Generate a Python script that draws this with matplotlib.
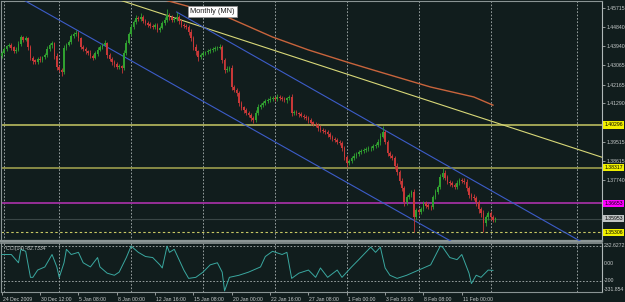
import matplotlib
matplotlib.use('Agg')
import matplotlib.pyplot as plt
import matplotlib.transforms as mtransforms
import numpy as np

# ---------------- data ----------------
first_open = 1.4350
closes = [
    1.4363, 1.4380, 1.4395, 1.4400, 1.4388, 1.4372, 1.4377, 1.4405, 1.4437, 1.4425,
    1.4432, 1.4390, 1.4340, 1.4328, 1.4321, 1.4335, 1.4330, 1.4342, 1.4353, 1.4380,
    1.4398, 1.4409, 1.4350, 1.4298, 1.4285, 1.4275, 1.4386, 1.4400, 1.4414, 1.4440,
    1.4450, 1.4456, 1.4432, 1.4391, 1.4380, 1.4370, 1.4363, 1.4350, 1.4340, 1.4360,
    1.4378, 1.4391, 1.4400, 1.4409, 1.4353, 1.4335, 1.4321, 1.4310, 1.4298, 1.4300,
    1.4293, 1.4363, 1.4409, 1.4450, 1.4483, 1.4505, 1.4525, 1.4520, 1.4530, 1.4512,
    1.4502, 1.4495, 1.4488, 1.4483, 1.4490, 1.4470, 1.4479, 1.4500, 1.4516, 1.4539,
    1.4528, 1.4516, 1.4522, 1.4530, 1.4510, 1.4493, 1.4488, 1.4483, 1.4460, 1.4432,
    1.4391, 1.4370, 1.4344, 1.4355, 1.4362, 1.4367, 1.4372, 1.4377, 1.4382, 1.4385,
    1.4388, 1.4391, 1.4330, 1.4284, 1.4290, 1.4293, 1.4205, 1.4190, 1.4177, 1.4131,
    1.4110, 1.4098, 1.4085, 1.4075, 1.4060, 1.4052, 1.4085, 1.4112, 1.4120, 1.4131,
    1.4140, 1.4145, 1.4150, 1.4154, 1.4148, 1.4160, 1.4154, 1.4150, 1.4145, 1.4152,
    1.4159, 1.4084, 1.4090, 1.4084, 1.4078, 1.4072, 1.4066, 1.4060, 1.4052, 1.4040,
    1.4035, 1.4029, 1.4015, 1.4005, 1.4000, 1.3996, 1.3985, 1.3973, 1.3965, 1.3959,
    1.3950, 1.3945, 1.3922, 1.3880, 1.3852, 1.3860, 1.3875, 1.3885, 1.3895, 1.3903,
    1.3908, 1.3912, 1.3918, 1.3920, 1.3922, 1.3930, 1.3936, 1.3950, 1.3975, 1.3996,
    1.3950, 1.3899, 1.3885, 1.3875, 1.3840, 1.3811, 1.3770, 1.3736, 1.3671, 1.3694,
    1.3705, 1.3718, 1.3602, 1.3634, 1.3625, 1.3640, 1.3667, 1.3655, 1.3650, 1.3648,
    1.3694, 1.3720, 1.3741, 1.3787, 1.3806, 1.3785, 1.3764, 1.3760, 1.3750, 1.3741,
    1.3760, 1.3773, 1.3770, 1.3764, 1.3735, 1.3704, 1.3695, 1.3690, 1.3671, 1.3640,
    1.3620, 1.3574, 1.3600, 1.3620, 1.3602, 1.3590, 1.3595,
]
# wick lengths in pips (0.0001)
upper_wick = [
    8, 12, 6, 10, 7, 5, 12, 15, 10, 6,
    12, 5, 8, 10, 6, 9, 12, 7, 10, 14,
    9, 11, 6, 12, 8, 10, 15, 9, 11, 12,
    10, 14, 8, 6, 10, 9, 7, 12, 8, 10,
    12, 9, 10, 14, 6, 8, 7, 10, 9, 12,
    6, 14, 12, 10, 16, 9, 12, 10, 18, 8,
    10, 9, 12, 8, 11, 13, 10, 9, 12, 28,
    10, 12, 9, 22, 8, 11, 9, 10, 8, 12,
    9, 12, 8, 10, 9, 7, 10, 8, 9, 11,
    8, 12, 10, 9, 14, 8, 12, 10, 9, 10,
    8, 9, 11, 7, 10, 9, 12, 14, 10, 9,
    11, 8, 12, 10, 9, 12, 8, 9, 11, 8,
    10, 14, 8, 9, 7, 10, 8, 9, 11, 8,
    9, 10, 8, 12, 9, 10, 8, 11, 9, 8,
    10, 8, 12, 9, 11, 10, 9, 12, 8, 10,
    9, 11, 8, 10, 9, 12, 10, 14, 15, 30,
    12, 10, 9, 11, 10, 12, 9, 14, 10, 12,
    9, 11, 15, 10, 12, 9, 11, 10, 12, 9,
    10, 12, 9, 14, 22, 12, 10, 9, 11, 10,
    12, 9, 10, 11, 13, 10, 9, 12, 10, 11,
    9, 14, 10, 12, 9, 11, 8,
]
lower_wick = [
    10, 7, 9, 6, 12, 8, 10, 6, 9, 11,
    8, 12, 10, 14, 9, 7, 11, 8, 6, 9,
    7, 10, 15, 12, 10, 18, 8, 9, 6, 10,
    7, 9, 12, 10, 8, 11, 9, 12, 10, 7,
    9, 8, 10, 6, 14, 9, 12, 10, 11, 9,
    24, 8, 9, 6, 10, 7, 9, 11, 8, 10,
    9, 12, 8, 10, 9, 12, 8, 7, 9, 10,
    11, 9, 8, 10, 12, 9, 10, 11, 12, 14,
    12, 15, 18, 9, 8, 10, 7, 9, 8, 10,
    9, 8, 14, 16, 10, 9, 12, 10, 14, 12,
    10, 12, 9, 11, 14, 16, 8, 9, 10, 8,
    9, 10, 8, 11, 9, 7, 10, 9, 8, 12,
    9, 14, 10, 9, 11, 8, 10, 9, 12, 10,
    11, 9, 12, 10, 8, 11, 10, 9, 12, 10,
    9, 11, 14, 12, 18, 10, 9, 8, 11, 9,
    8, 10, 9, 11, 10, 8, 9, 10, 12, 8,
    10, 12, 11, 9, 14, 12, 16, 15, 20, 11,
    10, 12, 68, 14, 12, 10, 9, 11, 10, 12,
    9, 10, 12, 8, 10, 11, 9, 12, 10, 11,
    10, 9, 12, 10, 11, 14, 12, 10, 16, 18,
    20, 40, 12, 10, 14, 11, 9,
]

ma_bars = [66, 94, 113, 128, 144, 155, 172, 179, 197, 205]
ma_values = [1.4615, 1.4530, 1.4437, 1.4377, 1.4321, 1.4284, 1.4228, 1.4205, 1.4159, 1.4121]

yellow_trend_bars = [40, 260]
yellow_trend_prices = [1.4642, 1.3845]
blue_upper_bars = [73, 260]
blue_upper_prices = [1.4553, 1.3373]
blue_lower_bars = [0, 220]
blue_lower_prices = [1.4666, 1.3286]

level_high = 1.40296
level_mid = 1.38317
level_pivot = 1.36653
bid_price = 1.35953
level_support = 1.35306

cci_bars = [0, 4, 7, 8, 10, 12, 13, 15, 18, 21, 23, 24, 26, 27, 29, 32, 34, 37, 40, 41,
            44, 47, 49, 52, 54, 57, 60, 63, 66, 67, 69, 70, 72, 74, 76, 78, 81, 84, 87, 90,
            92, 93, 95, 99, 103, 108, 110, 113, 117, 119, 121, 124, 128, 131, 133, 136, 140, 142, 146, 149,
            154, 156, 158, 160, 162, 165, 169, 172, 174, 179, 183, 184, 187, 190, 192, 195, 196, 198, 200, 203,
            205]
cci_values = [100, 100, 5, 160, 137, -163, -163, -79, -43, 100, -43, -163, 5, 160, 100, 125, 5, -43, 65, -43,
              -115, -139, -103, 65, 197, 125, 77, 65, -19, -55, 197, 125, 160, 41, -79, -175, -163, -103, -19, 5,
              -103, -319, -163, -139, -103, -43, 77, 137, 100, 125, -175, -115, -79, -163, -55, -163, -79, -163, -43, 41,
              185, 125, 185, -55, -139, -175, -139, -103, -79, -19, 197, 185, 65, 41, 100, -115, -235, -139, -163, -79,
              -83]
cci_label = "CCI(14) -82.7334"
cci_max = 232.6272
cci_min = -331.854
cci_levels = [200, -200]

price_ticks = [1.45715, 1.44840, 1.43940, 1.43065, 1.42165, 1.41290, 1.39515, 1.38615, 1.37740]
date_label_bars = [0, 16, 32, 48, 64, 80, 96, 112, 128, 144, 160, 176, 192]
date_labels = ["24 Dec 2009", "30 Dec 12:00", "5 Jan 08:00", "8 Jan 00:00", "12 Jan 16:00",
               "15 Jan 08:00", "20 Jan 00:00", "22 Jan 16:00", "27 Jan 08:00", "1 Feb 00:00",
               "3 Feb 16:00", "8 Feb 08:00", "11 Feb 00:00"]
grid_bars = [1, 24, 54, 84, 114, 144, 174, 204, 240]
timeframe_label = "Monthly (MN)"

# ---------------- style ----------------
BG = '#111d1d'
FG = '#c8cccc'
SPINE = '#8a9494'
UP = '#30a030'
DOWN = '#c83838'
YEL = '#c8c864'
FONT = 'Liberation Sans'
FS = 3.7

W, H = 625, 302
fig = plt.figure(figsize=(W / 100, H / 100), dpi=100, facecolor=BG)
ax = fig.add_axes([1 / W, 1 - 241 / H, 601 / W, 240 / H], facecolor=BG)
ax2 = fig.add_axes([1 / W, 1 - 292 / H, 601 / W, 49 / H], facecolor=BG, sharex=ax)

x_left, x_right = -0.3, 250.5
ax.set_xlim(x_left, x_right)
ax.set_ylim(1.3491, 1.4604)

# candles
n = len(closes)
idx = np.arange(n)
c = np.array(closes)
o = np.concatenate([[first_open], c[:-1]])
hi = np.maximum(o, c) + np.array(upper_wick) * 1e-4
lo = np.minimum(o, c) - np.array(lower_wick) * 1e-4
col = np.where(c >= o, UP, DOWN)

# grid
for gb in grid_bars:
    for a in (ax, ax2):
        a.axvline(gb, color='#b8c0c0', lw=0.55, ls=(0, (2.2, 2.2)), zorder=1)

# level lines
ax.axhline(level_high, color=YEL, lw=1.1, zorder=2)
ax.axhline(level_mid, color='#a8a850', lw=1.1, zorder=2)
ax.axhline(level_pivot, color='#a030a0', lw=1.3, zorder=2)
ax.axhline(bid_price, color='#3a4646', lw=0.8, zorder=2)
ax.axhline(level_support, color=YEL, lw=0.8, ls=(0, (2.2, 2.2)), zorder=2)

# trend lines
ax.plot(yellow_trend_bars, yellow_trend_prices, color='#d8d878', lw=0.8, zorder=3)
ax.plot(blue_upper_bars, blue_upper_prices, color='#3c5cc8', lw=0.8, zorder=3)
ax.plot(blue_lower_bars, blue_lower_prices, color='#3c5cc8', lw=0.8, zorder=3)
ax.plot(ma_bars, ma_values, color='#c8643c', lw=1.0, zorder=3)

ax.vlines(idx, lo, hi, colors=col, lw=0.6, zorder=4)
ax.bar(idx, np.abs(c - o) + 0.00008, bottom=np.minimum(o, c), width=0.7, color=col, lw=0, zorder=5)

# spines
for a in (ax, ax2):
    for s in a.spines.values():
        s.set_color(SPINE)
        s.set_linewidth(0.8)
    a.spines['right'].set_color('#b0b8b8')
ax.spines['bottom'].set_color('#8c9696')
ax.spines['bottom'].set_linewidth(1.6)
ax2.spines['top'].set_color('#8c9696')
ax2.spines['top'].set_linewidth(1.2)

# price axis
ax.yaxis.tick_right()
ax.set_yticks(price_ticks)
ax.set_yticklabels([f"{v:.5f}" for v in price_ticks])
ax.tick_params(axis='y', colors=FG, labelsize=FS, length=2, width=0.5, pad=1)
ax.tick_params(axis='x', bottom=False, labelbottom=False)
for t in ax.get_yticklabels():
    t.set_fontfamily(FONT)

trans = mtransforms.blended_transform_factory(ax.transAxes, ax.transData)
for val, fc in [(level_high, '#f0f000'), (level_mid, '#f0f000'), (level_pivot, '#ff00ff'),
                (bid_price, '#c0c4c4'), (level_support, '#f0f000')]:
    ax.text(1.004, val, f"{val:.5f}", transform=trans, fontsize=FS, family=FONT,
            color='black', va='center', ha='left', clip_on=False, zorder=10,
            bbox=dict(boxstyle='square,pad=0.25', fc=fc, ec='none'))

# timeframe tooltip
fig.text(190 / W, 1 - 11.5 / H, timeframe_label, fontsize=5.3, family=FONT, color='#202020',
         va='center', ha='left',
         bbox=dict(boxstyle='square,pad=0.3', fc='white', ec='#909090', lw=0.6))

# CCI panel
ax2.set_ylim(cci_min, cci_max)
ax2.plot(cci_bars, cci_values, color='#3aa8a0', lw=0.7, zorder=3)
for lv in cci_levels:
    ax2.axhline(lv, color='#b8c0c0', lw=0.55, ls=(0, (2.2, 2.2)), zorder=1)
ax2.set_yticks([])
ax2.tick_params(axis='y', right=False, left=False, labelleft=False)
trans2 = mtransforms.blended_transform_factory(ax2.transAxes, ax2.transData)
for yv, txt, va in [(cci_max, f"{cci_max:.4f}", 'top'), (0, "0.00", 'center'),
                    (-200, "-200", 'center'), (cci_min, f"{cci_min:.3f}", 'bottom')]:
    ax2.text(1.003, yv, txt, transform=trans2, fontsize=FS, family=FONT, color=FG,
             va=va, ha='left', clip_on=False)
ax2.text(0.008, 0.93, cci_label, transform=ax2.transAxes, fontsize=FS, family=FONT, color=FG,
         va='top', ha='left')

ax2.set_xticks(date_label_bars)
ax2.set_xticklabels(date_labels)
ax2.tick_params(axis='x', colors=FG, labelsize=FS, length=2, width=0.5, pad=1.5)
offset = mtransforms.ScaledTranslation(1 / 100, 0, fig.dpi_scale_trans)
for t in ax2.get_xticklabels():
    t.set_fontfamily(FONT)
    t.set_ha('left')
    t.set_transform(t.get_transform() + offset)

fig.savefig('out.png', dpi=100, facecolor=BG)
